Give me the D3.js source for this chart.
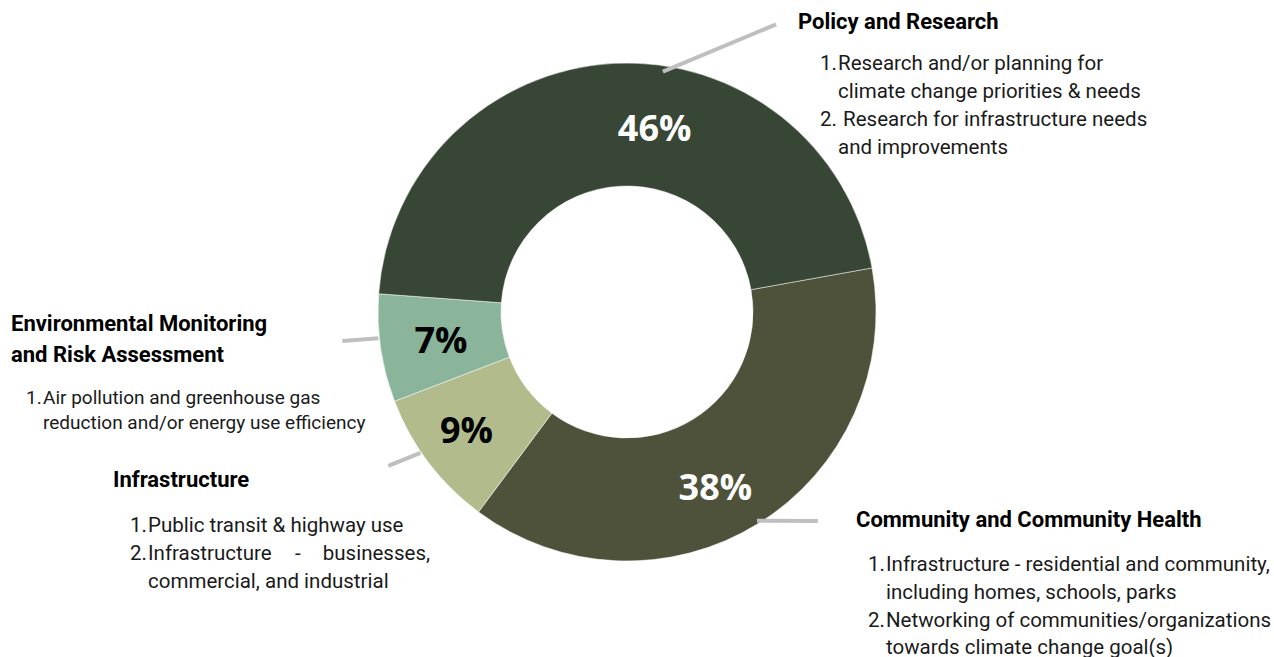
<!DOCTYPE html>
<html>
<head>
<meta charset="utf-8">
<script src="https://cdn.jsdelivr.net/npm/d3@7"></script>
<style>
  body { margin: 0; background: #fff; }
  .head { font-family: Roboto, sans-serif; font-weight: 700; font-size: 22px; fill: #000; }
  .item { font-family: Roboto, sans-serif; font-size: 20.5px; fill: #1a1a1a; }
  .item.small { font-size: 19px; }
  .pct { font-family: "Open Sans", sans-serif; font-weight: 700; font-size: 36px; }
</style>
</head>
<body>
<div id="chart"></div>
<script>
/**
 * DATA
 * */
const categories = ["Community and Community Health", "Infrastructure", "Environmental Monitoring and Risk Assessment", "Policy and Research"];
const shares = [38, 9, 7, 46];
const sliceColors = ["#4e523a", "#b1bb8c", "#8bb59b", "#374635"];
const pctColors = ["#fff", "#000", "#000", "#fff"];

/**
 * CONSTANTS
 * */
const width = 1274,
  height = 657,
  cx = 627,
  cy = 312,
  outerR = 249,
  innerR = 126,
  startDeg = 79.8;

// per-slice nudge of the percent label (degrees, radius)
const labelNudge = [[5, 196], [1, 199], [0, 188], [11.5, 187]];
// leader lines: [startDeg, startR, endDeg, endR]
const leaders = [[148.1, 246, 137.6, 283], [235.7, 250, 237.2, 284], [264, 250, 264.2, 286], [8.5, 243, 27.4, 324]];

const svg = d3.select("#chart")
  .append("svg")
  .attr("width", width)
  .attr("height", height);

const pie = d3.pie()
  .sort(null)
  .value(d => d)
  .startAngle(startDeg * Math.PI / 180)
  .endAngle((startDeg + 360) * Math.PI / 180);

const arc = d3.arc().innerRadius(innerR).outerRadius(outerR);
const arcs = pie(shares);

const g = svg.append("g").attr("transform", `translate(${cx},${cy})`);

g.selectAll("path.slice")
  .data(arcs)
  .join("path")
  .attr("class", "slice")
  .attr("d", arc)
  .attr("fill", (d, i) => sliceColors[i])
  .attr("stroke", "#fff")
  .attr("stroke-width", 0.5);

const polar = (deg, r) => [r * Math.sin(deg * Math.PI / 180), -r * Math.cos(deg * Math.PI / 180)];

g.selectAll("text.pct")
  .data(arcs)
  .join("text")
  .attr("class", "pct")
  .attr("text-anchor", "middle")
  .attr("dominant-baseline", "central")
  .attr("fill", (d, i) => pctColors[i])
  .attr("transform", (d, i) => {
    const mid = (d.startAngle + d.endAngle) / 2 * 180 / Math.PI + labelNudge[i][0];
    const p = polar(mid, labelNudge[i][1]);
    return `translate(${p[0]},${p[1]})`;
  })
  .text(d => d.value + "%");

g.selectAll("line.leader")
  .data(leaders)
  .join("line")
  .attr("class", "leader")
  .attr("x1", d => polar(d[0], d[1])[0])
  .attr("y1", d => polar(d[0], d[1])[1])
  .attr("x2", d => polar(d[2], d[3])[0])
  .attr("y2", d => polar(d[2], d[3])[1])
  .attr("stroke", "#bdbfc1")
  .attr("stroke-width", 4);

/**
 * ANNOTATIONS
 * */
function heading(x, y, lines, lh) {
  const t = svg.append("text").attr("class", "head");
  lines.forEach((s, i) => t.append("tspan").attr("x", x).attr("y", y + i * lh).text(s));
}
function listLine(xNum, xText, y, num, s, cls) {
  const t = svg.append("text").attr("class", cls || "item").attr("y", y);
  if (num) t.append("tspan").attr("x", xNum).text(num);
  t.append("tspan").attr("x", xText).text(s);
}

// Policy and Research
heading(798, 29, ["Policy and Research"], 31);
listLine(820, 838, 70, "1.", "Research and/or planning for");
listLine(820, 838, 98, null, "climate change priorities & needs");
listLine(820, 838, 126, "2.", " Research for infrastructure needs");
listLine(820, 838, 154, null, "and improvements");

// Environmental Monitoring
heading(11, 331, ["Environmental Monitoring", "and Risk Assessment"], 31);
listLine(26, 43, 404, "1.", "Air pollution and greenhouse gas", "item small");
listLine(26, 43, 429, null, "reduction and/or energy use efficiency", "item small");

// Infrastructure
heading(113, 487, ["Infrastructure"], 31);
listLine(130, 148, 532, "1.", "Public transit & highway use");
listLine(130, 148, 560, "2.", "Infrastructure");
svg.append("text").attr("class", "item").attr("x", 295).attr("y", 560).text("-");
svg.append("text").attr("class", "item").attr("x", 430).attr("y", 560).attr("text-anchor", "end").text("businesses,");
listLine(130, 148, 588, null, "commercial, and industrial");

// Community
heading(856, 527, ["Community and Community Health"], 31);
listLine(868, 886, 571, "1.", "Infrastructure - residential and community,");
listLine(868, 886, 599, null, "including homes, schools, parks");
listLine(868, 886, 627, "2.", "Networking of communities/organizations");
listLine(868, 886, 654, null, "towards climate change goal(s)");
</script>
</body>
</html>
